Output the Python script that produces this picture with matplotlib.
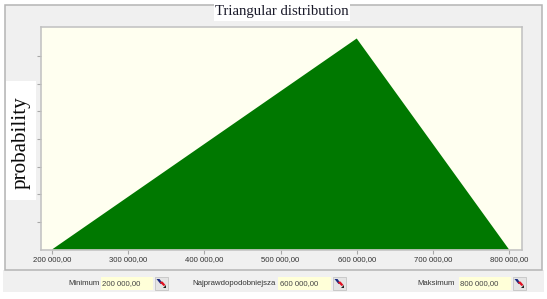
import matplotlib
matplotlib.use("Agg")
import matplotlib.pyplot as plt
from matplotlib.patches import Rectangle, Polygon

W, H = 547, 299
x_values = [200000, 600000, 800000]
density = [0.0, 3.333e-6, 0.0]
x_ticks = [200000, 300000, 400000, 500000, 600000, 700000, 800000]
x_tick_labels = ["200 000,00", "300 000,00", "400 000,00", "500 000,00",
                 "600 000,00", "700 000,00", "800 000,00"]
y_ticks = [0.437e-6, 0.874e-6, 1.311e-6, 1.748e-6, 2.185e-6, 2.622e-6, 3.059e-6]
title = "Triangular distribution"
y_label = "probability"
field_names = ["Minimum", "Najprawdopodobniejsza", "Maksimum"]
field_values = ["200 000,00", "600 000,00", "800 000,00"]

plt.rcParams['font.family'] = ['Liberation Sans', 'DejaVu Sans']
fig = plt.figure(figsize=(W / 100, H / 100), dpi=100, facecolor='white')

bg = fig.add_axes([0, 0, 1, 1], zorder=0)
bg.set_xlim(0, W)
bg.set_ylim(H, 0)
bg.axis('off')
# window panels
bg.add_patch(Rectangle((3, 270), 541, 22, fc='#f0f0f0', ec='none'))
bg.add_patch(Rectangle((4.5, 5), 537.5, 265, fc='#f0f0f0', ec='#b4b4b4', lw=1.1))
# title and y label plates
bg.add_patch(Rectangle((214, 2), 136, 19, fc='white', ec='none', zorder=3))
bg.add_patch(Rectangle((6, 81), 30, 119, fc='white', ec='none', zorder=3))
bg.text(281.5, 12, title, family='Liberation Serif', fontsize=10.6, color='#1a1a2a',
        ha='center', va='center', zorder=4)
bg.text(21, 142.5, y_label, family='Liberation Serif', fontsize=15.2, color='#0a0a0a',
        rotation=90, ha='center', va='center', zorder=4)

# bottom fields: label right edge, box left, box right
field_right = [100, 276, 455]
field_box = [(101, 153), (278, 331), (459, 511)]
for name, val, r, (b0, b1) in zip(field_names, field_values, field_right, field_box):
    bg.text(r, 283.5, name, fontsize=5.6, color='#333333', ha='right', va='center')
    bg.add_patch(Rectangle((b0, 277), b1 - b0, 12.5, fc='#ffffd8', ec='none'))
    bg.text(b0 + 1.5, 283.5, val, fontsize=5.6, color='#444444', ha='left', va='center')
    ix = b1 + 1.5
    bg.add_patch(Rectangle((ix, 276.5), 13, 13.5, fc='#e4e4e4', ec='#c4c4c4', lw=0.6))
    bg.add_patch(Polygon([(ix + 2, 279), (ix + 5, 279), (ix + 8, 283), (ix + 6, 284)], fc='#1a2a80', ec='none'))
    bg.add_patch(Polygon([(ix + 5, 282), (ix + 8, 281.5), (ix + 11, 285), (ix + 9, 286)], fc='#e01020', ec='none'))
    bg.add_patch(Polygon([(ix + 8, 287.5), (ix + 11, 287.5), (ix + 11, 284.5)], fc='#222222', ec='none'))

ax = fig.add_axes([40.5 / W, 1 - 249.5 / H, (522 - 40.5) / W, (249.5 - 27) / H],
                  zorder=2, facecolor='#fffff0')
ax.fill(x_values, density, color='#007800', lw=0)
ax.set_xlim(184900, 817000)
ax.set_ylim(0, 3.333e-6 * 222.5 / 211)
ax.set_xticks(x_ticks, x_tick_labels)
ax.set_yticks(y_ticks, [''] * len(y_ticks))
ax.tick_params(axis='both', color='#a8a8a8', length=3, width=0.8)
ax.tick_params(axis='x', labelsize=5.6, labelcolor='#333333', pad=2)
for side in ax.spines.values():
    side.set_color('#c0c0c0')
    side.set_linewidth(1.1)

fig.savefig('out.png', dpi=100)
